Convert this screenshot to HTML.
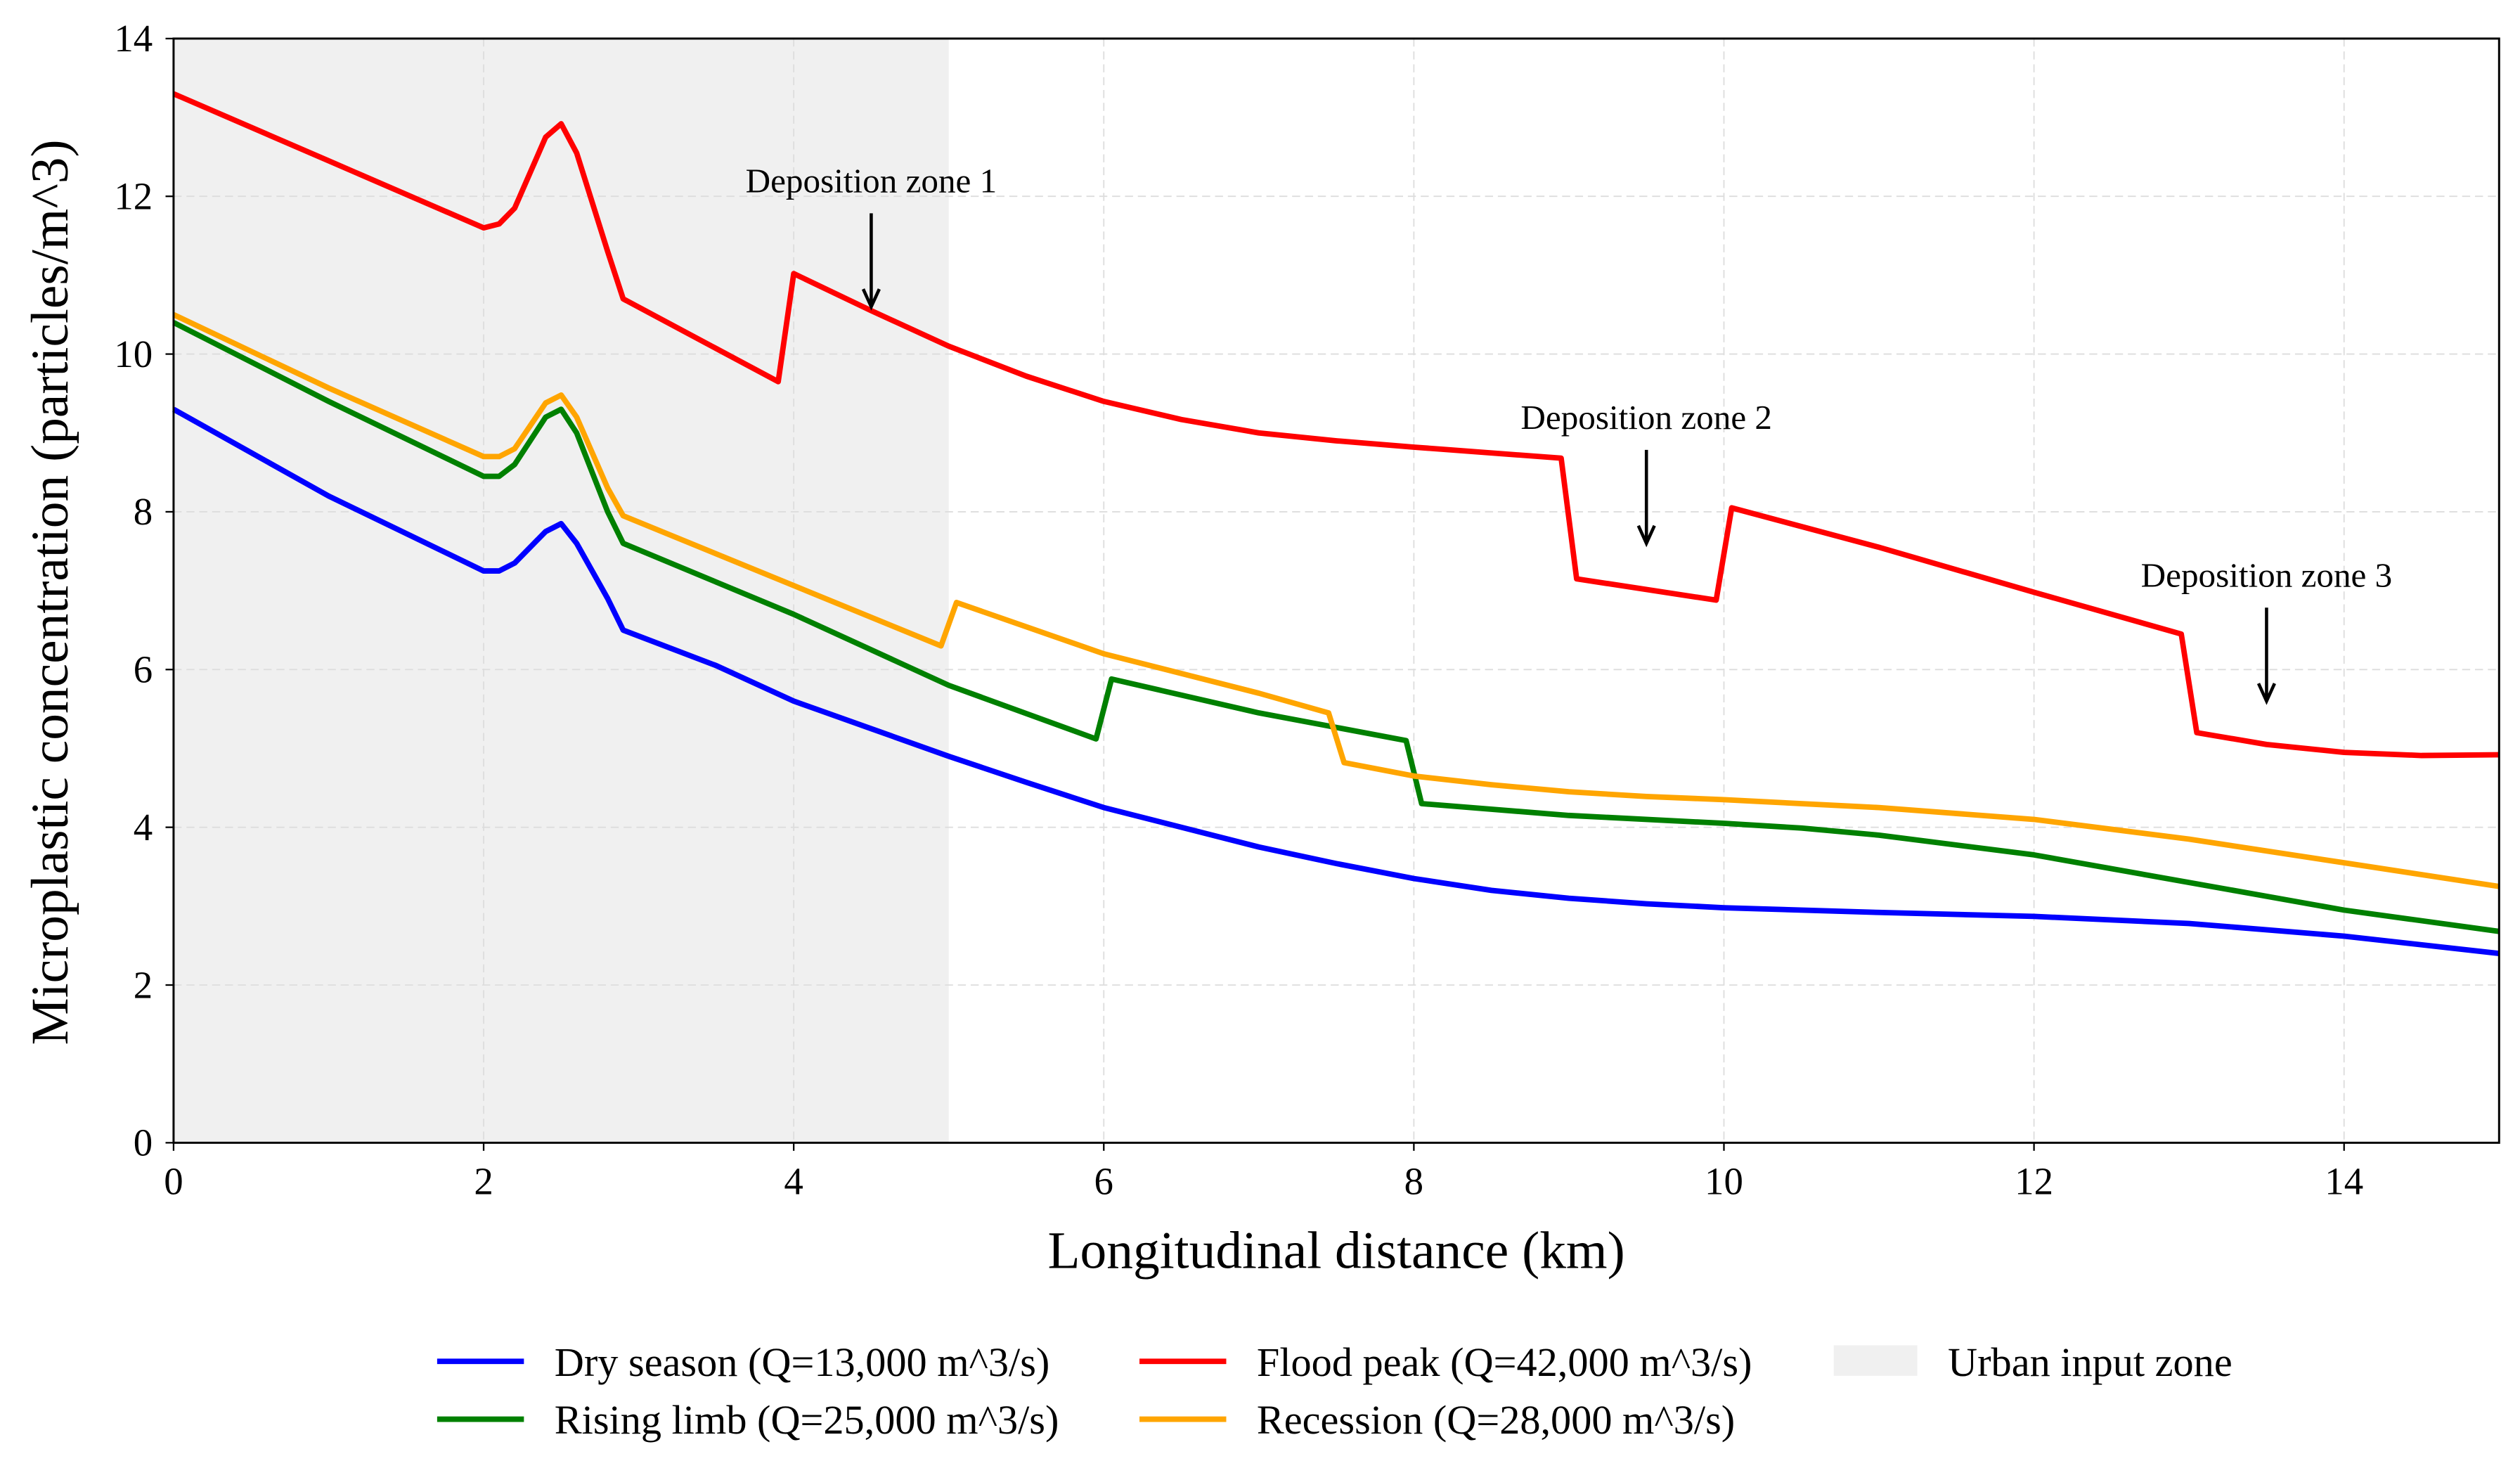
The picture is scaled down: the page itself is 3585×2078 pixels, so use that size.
<!DOCTYPE html>
<html><head><meta charset="utf-8"><style>
html,body{margin:0;padding:0;background:#fff;}
svg{display:block;font-family:"Liberation Serif",serif;}
</style></head><body>
<svg id="chart" width="3585" height="2078" viewBox="0 0 1568 909" preserveAspectRatio="none" xmlns="http://www.w3.org/2000/svg"></svg>
<script>
const xTicks=[0,2,4,6,8,10,12,14];
const yTicks=[0,2,4,6,8,10,12,14];
const dryX=[0,1,2,2.1,2.2,2.4,2.5,2.6,2.8,2.9,3.5,4,4.5,5,5.5,6,6.5,7,7.5,8,8.5,9,9.5,10,11,12,13,14,15];
const dryY=[9.3,8.2,7.25,7.25,7.35,7.75,7.85,7.6,6.9,6.5,6.05,5.6,5.25,4.9,4.57,4.25,4.0,3.75,3.54,3.35,3.2,3.1,3.03,2.98,2.92,2.87,2.78,2.62,2.4];
const floodX=[0,1,2,2.1,2.2,2.4,2.5,2.6,2.8,2.9,3.9,4.0,4.5,5,5.5,6,6.5,7,7.5,8,8.95,9.05,9.95,10.05,11,12,12.95,13.05,13.5,14,14.5,15];
const floodY=[13.3,12.45,11.6,11.65,11.85,12.75,12.92,12.55,11.3,10.7,9.65,11.02,10.55,10.1,9.72,9.4,9.17,9.0,8.9,8.82,8.68,7.15,6.88,8.05,7.55,6.98,6.45,5.2,5.05,4.95,4.91,4.92];
const risingX=[0,1,2,2.1,2.2,2.4,2.5,2.6,2.8,2.9,4,5,5.95,6.05,7,7.95,8.05,9,10,10.5,11,12,13,14,15];
const risingY=[10.4,9.4,8.45,8.45,8.6,9.2,9.3,9.0,8.0,7.6,6.7,5.8,5.12,5.88,5.45,5.1,4.3,4.15,4.05,3.99,3.9,3.65,3.3,2.95,2.68];
const recessX=[0,1,2,2.1,2.2,2.4,2.5,2.6,2.8,2.9,4.95,5.05,6,7,7.45,7.55,8,8.5,9,9.5,10,11,12,13,14,15];
const recessY=[10.5,9.57,8.7,8.7,8.8,9.38,9.48,9.2,8.3,7.95,6.3,6.85,6.2,5.7,5.45,4.82,4.65,4.54,4.45,4.39,4.35,4.25,4.1,3.85,3.55,3.25];
const zoneLabels=["Deposition zone 1","Deposition zone 2","Deposition zone 3"];
const zoneX=[4.5,9.5,13.5];
const zoneTextY=[12.05,9.05,7.05];
const zoneArrowTip=[10.6,7.6,5.6];

const svg=document.getElementById('chart');
const NS='http://www.w3.org/2000/svg';
const L=108,R=1555,T=24,B=711;
const sx=v=>L+(v/15)*(R-L);
const sy=v=>B-(v/14)*(B-T);
function el(tag,attrs,parent){const e=document.createElementNS(NS,tag);for(const k in attrs)e.setAttribute(k,attrs[k]);(parent||svg).appendChild(e);return e;}

let z=el('rect',{x:sx(0),y:T,width:sx(5)-sx(0),height:B-T,fill:'#f0f0f0'});



xTicks.forEach(t=>{
 if(t>0){let g=el('line',{x1:sx(t),x2:sx(t),y1:T,y2:B,stroke:'#ddd','stroke-width':0.8,'stroke-dasharray':'5,3'});
 
 }
 let tk=el('line',{x1:sx(t),x2:sx(t),y1:B,y2:B+5,stroke:'#000','stroke-width':1});
 
 
 let tl=el('text',{x:sx(t),y:B+32,'text-anchor':'middle','font-size':24});
 tl.textContent=t;
 
 
});
yTicks.forEach(t=>{
 if(t>0&&t<14){let g=el('line',{x1:L,x2:R,y1:sy(t),y2:sy(t),stroke:'#ddd','stroke-width':0.8,'stroke-dasharray':'5,3'});
 
 }
 let tk=el('line',{x1:L-5,x2:L,y1:sy(t),y2:sy(t),stroke:'#000','stroke-width':1});
 
 
 let tl=el('text',{x:L-13,y:sy(t)+8,'text-anchor':'end','font-size':24});
 tl.textContent=t;
 
 
});

function series(xs,ys,color,name){
 const d=xs.map((x,i)=>(i?'L':'M')+sx(x).toFixed(2)+','+sy(ys[i]).toFixed(2)).join(' ');
 let p=el('path',{d:d,fill:'none',stroke:color,'stroke-width':3.4,'stroke-linejoin':'round'});
 
 
}
series(dryX,dryY,'#0000ff','dry-season-line');
series(risingX,risingY,'#008000','rising-limb-line');
series(recessX,recessY,'#ffa500','recession-line');
series(floodX,floodY,'#ff0000','flood-peak-line');

zoneLabels.forEach((lab,i)=>{
 let t=el('text',{x:sx(zoneX[i]),y:sy(zoneTextY[i]),'text-anchor':'middle','font-size':21.5});
 t.textContent=lab;
 
 
 const x=sx(zoneX[i]),y0=sy(zoneTextY[i])+13,y1=sy(zoneArrowTip[i]);
 let a=el('path',{d:`M${x},${y0} L${x},${y1-2} M${x-5},${y1-11} L${x},${y1} L${x+5},${y1-11}`,fill:'none',stroke:'#000','stroke-width':2});
 
 
});

let fr=el('rect',{x:L,y:T,width:R-L,height:B-T,fill:'none',stroke:'#000','stroke-width':1.3});



let xt=el('text',{x:(L+R)/2,y:789,'text-anchor':'middle','font-size':33});
xt.textContent='Longitudinal distance (km)';


let yt=el('text',{x:0,y:0,'text-anchor':'middle','font-size':33,transform:`translate(42,${(T+B)/2+1}) rotate(-90)`});
yt.textContent='Microplastic concentration (particles/m^3)';



const legendNames=['Dry season (Q=13,000 m^3/s)','Rising limb (Q=25,000 m^3/s)','Flood peak (Q=42,000 m^3/s)','Recession (Q=28,000 m^3/s)'];
const legendColors=['#0000ff','#008000','#ff0000','#ffa500'];
const lx=[272,272,709,709],ly=[847,883,847,883];
legendNames.forEach((n,i)=>{
 let g=el('g',{});
 
 
 el('line',{x1:lx[i],x2:lx[i]+54,y1:ly[i],y2:ly[i],stroke:legendColors[i],'stroke-width':3.4},g);
 let t=el('text',{x:lx[i]+73,y:ly[i]+9,'font-size':25.5},g);t.textContent=n;
});
let g=el('g',{});


el('rect',{x:1141,y:837,width:52,height:19,fill:'#f0f0f0'},g);
let t=el('text',{x:1212,y:856,'font-size':25.5},g);t.textContent='Urban input zone';
</script>
</body></html>
